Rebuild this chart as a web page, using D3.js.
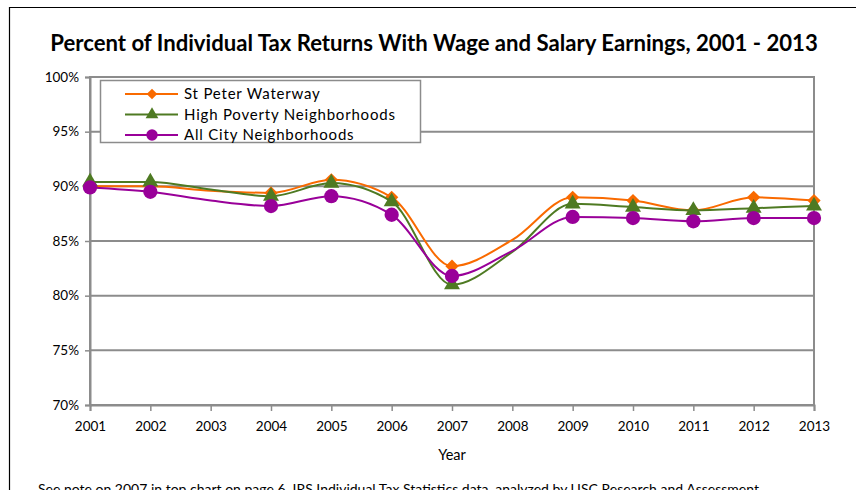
<!doctype html>
<html>
<head>
  <meta charset="utf-8">
  <title>Percent of Individual Tax Returns With Wage and Salary Earnings</title>
  <script src="https://cdnjs.cloudflare.com/ajax/libs/d3/7.8.5/d3.min.js"></script>
  <style>
    html, body { margin: 0; padding: 0; background: #fff; }
    svg { display: block; font-family: Lato, "Open Sans", sans-serif; }
  </style>
</head>
<body>
<div id="chart"></div>
<script>
  // values (percent)
  const years = [2001, 2002, 2003, 2004, 2005, 2006, 2007, 2008, 2009, 2010, 2011, 2012, 2013];
  const stPeter  = [90.0, 90.0, 89.6, 89.4, 90.6, 89.0, 82.7, 85.1, 89.0, 88.7, 87.8, 89.0, 88.7];
  const highPov  = [90.4, 90.4, 89.7, 89.1, 90.3, 88.6, 81.0, 84.0, 88.4, 88.1, 87.8, 88.0, 88.2];
  const allCity  = [89.9, 89.5, 88.7, 88.2, 89.1, 87.4, 81.8, 84.1, 87.2, 87.1, 86.8, 87.1, 87.1];
  // no marker is drawn for 2003 and 2008
  const markerYears = [2001, 2002, 2004, 2005, 2006, 2007, 2009, 2010, 2011, 2012, 2013];
  const yTicks = [70, 75, 80, 85, 90, 95, 100];

  const series = [
    { name: 'St Peter Waterway', values: stPeter, color: '#f96a00', symbol: 'diamond' },
    { name: 'High Poverty Neighborhoods', values: highPov, color: '#4e7a22', symbol: 'triangle' },
    { name: 'All City Neighborhoods', values: allCity, color: '#990099', symbol: 'circle' }
  ];

  const W = 856, H = 490;
  const svg = d3.select('#chart').append('svg')
    .attr('width', W)
    .attr('height', H);

  // outer frame (runs off right and bottom)
  svg.append('path')
    .attr('d', `M9.5,${H + 2} V7.5 H${W + 2}`)
    .attr('fill', 'none')
    .attr('stroke', '#000')
    .attr('stroke-width', 1.2);

  const x = d3.scaleLinear().domain([2001, 2013]).range([90, 814]);
  const y = d3.scaleLinear().domain([70, 100]).range([405, 77]);

  // title
  const title = svg.append('text')
    .attr('x', 434)
    .attr('y', 51)
    .attr('text-anchor', 'middle')
    .style('font-weight', 'bold')
    .style('font-size', '20px')
    .attr('fill', '#000')
    .text('Percent of Individual Tax Returns With Wage and Salary Earnings, 2001 - 2013');
  const tw = title.node().getComputedTextLength();
  title.style('font-size', (20 * 768 / tw) + 'px');

  // gridlines
  svg.append('g')
    .selectAll('line')
    .data(yTicks)
    .join('line')
    .attr('x1', x(2001))
    .attr('x2', x(2013))
    .attr('y1', d => y(d))
    .attr('y2', d => y(d))
    .attr('stroke', '#8c8c8c')
    .attr('stroke-width', 2);

  // plot frame
  svg.append('rect')
    .attr('x', x(2001))
    .attr('y', y(100))
    .attr('width', x(2013) - x(2001))
    .attr('height', y(70) - y(100))
    .attr('fill', 'none')
    .attr('stroke', '#8c8c8c')
    .attr('stroke-width', 2);

  // axes
  const yAxis = svg.append('g')
    .attr('transform', `translate(${x(2001)},0)`)
    .call(d3.axisLeft(y).tickValues(yTicks).tickSize(5).tickPadding(6).tickFormat(d => d + '%'));

  const xAxis = svg.append('g')
    .attr('transform', `translate(0,${y(70)})`)
    .call(d3.axisBottom(x).tickValues(years).tickSize(6).tickPadding(10).tickFormat(d3.format('d')));

  [yAxis, xAxis].forEach(a => {
    a.select('.domain').attr('stroke', '#8c8c8c').attr('stroke-width', 2);
    a.selectAll('.tick line').attr('stroke', '#8c8c8c').attr('stroke-width', 1.5);
    a.selectAll('.tick text')
      .attr('fill', '#000')
      .style('font-size', '13.5px')
      .style('font-family', 'Lato, "Open Sans", sans-serif');
  });

  // axis title
  svg.append('text')
    .attr('x', 452)
    .attr('y', 460)
    .attr('text-anchor', 'middle')
    .style('font-size', '14.5px')
    .attr('fill', '#000')
    .text('Year');

  // footnote (cut off by the picture edge, as in the source)
  svg.append('text')
    .attr('x', 38)
    .attr('y', 494)
    .style('font-size', '14px')
    .attr('fill', '#000')
    .text('See note on 2007 in top chart on page 6. IRS Individual Tax Statistics data, analyzed by USC Research and Assessment');

  const symbolFor = s => {
    if (s === 'diamond') return d3.symbol().type(d3.symbolSquare).size(88)();
    if (s === 'triangle') return d3.symbol().type(d3.symbolTriangle).size(110)();
    return d3.symbol().type(d3.symbolCircle).size(160)();
  };
  const rotFor = s => s === 'diamond' ? ' rotate(45)' : '';

  const line = d3.line()
    .x(d => x(d.year))
    .y(d => y(d.value))
    .curve(d3.curveMonotoneX);

  series.forEach(s => {
    const pts = years.map((yr, i) => ({ year: yr, value: s.values[i] }));
    const g = svg.append('g');
    g.append('path')
      .datum(pts)
      .attr('d', line)
      .attr('fill', 'none')
      .attr('stroke', s.color)
      .attr('stroke-width', 2);
    g.selectAll('path.marker')
      .data(pts.filter(p => markerYears.includes(p.year)))
      .join('path')
      .attr('class', 'marker')
      .attr('d', symbolFor(s.symbol))
      .attr('transform', d => `translate(${x(d.year)},${y(d.value)})${rotFor(s.symbol)}`)
      .attr('fill', s.color);
  });

  // legend
  const legend = svg.append('g');
  legend.append('rect')
    .attr('x', 100.5)
    .attr('y', 80.5)
    .attr('width', 320)
    .attr('height', 62)
    .attr('fill', '#fff')
    .attr('stroke', '#8c8c8c')
    .attr('stroke-width', 1.5);

  const rows = legend.selectAll('g.row')
    .data(series)
    .join('g')
    .attr('class', 'row')
    .attr('transform', (d, i) => `translate(0,${94 + i * 20.5})`);
  rows.append('line')
    .attr('x1', 125).attr('x2', 178)
    .attr('stroke', d => d.color)
    .attr('stroke-width', 2);
  rows.append('path')
    .attr('d', d => symbolFor(d.symbol))
    .attr('transform', d => `translate(152,0)${rotFor(d.symbol)} scale(0.8)`)
    .attr('fill', d => d.color);
  rows.append('text')
    .attr('x', 184)
    .attr('dy', '0.35em')
    .style('font-size', '15px')
    .style('letter-spacing', '0.8px')
    .attr('fill', '#000')
    .text(d => d.name);
</script>
</body>
</html>
